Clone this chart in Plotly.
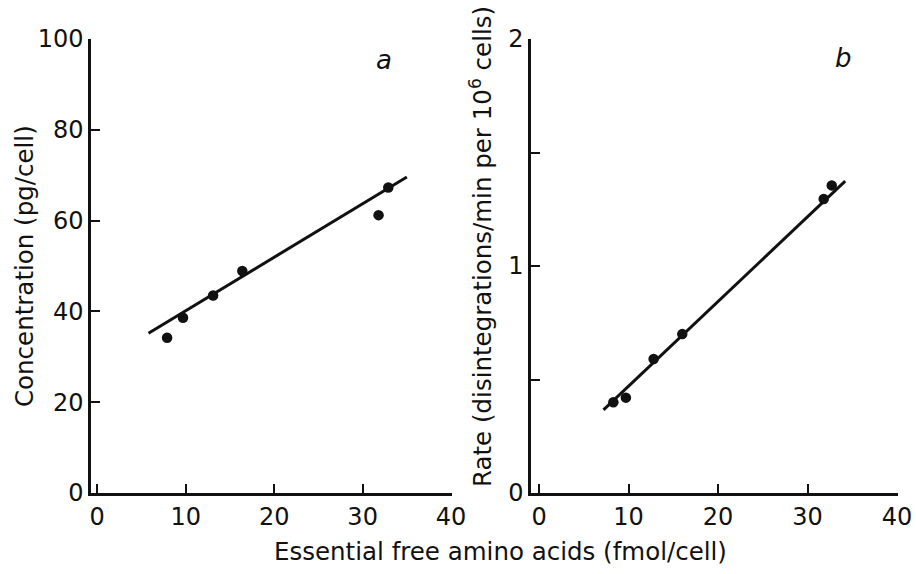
import plotly.graph_objects as go

# Panel a data
a_x = [7.9, 9.7, 13.1, 16.4, 31.8, 32.9]
a_y = [34.2, 38.6, 43.5, 48.9, 61.2, 67.3]
a_fit_x = [5.8, 35.0]
a_fit_y = [35.2, 69.6]

# Panel b data
b_x = [8.3, 9.7, 12.8, 16.0, 31.8, 32.7]
b_y = [0.40, 0.42, 0.59, 0.70, 1.295, 1.355]
b_fit_x = [7.2, 34.2]
b_fit_y = [0.366, 1.374]

x_ticks = [0, 10, 20, 30, 40]
a_yticks = [0, 20, 40, 60, 80, 100]
b_yticks = [0, 0.5, 1, 1.5, 2]
b_yticktext = ["0", "", "1", "", "2"]

W, H = 916, 574
FONT = "DejaVu Sans"
INK = "#111"

fig = go.Figure()
fig.add_trace(go.Scatter(x=a_fit_x, y=a_fit_y, mode="lines",
                         line=dict(color=INK, width=3), xaxis="x", yaxis="y", showlegend=False))
fig.add_trace(go.Scatter(x=a_x, y=a_y, mode="markers",
                         marker=dict(color=INK, size=10.5), xaxis="x", yaxis="y", showlegend=False))
fig.add_trace(go.Scatter(x=b_fit_x, y=b_fit_y, mode="lines",
                         line=dict(color=INK, width=3), xaxis="x2", yaxis="y2", showlegend=False))
fig.add_trace(go.Scatter(x=b_x, y=b_y, mode="markers",
                         marker=dict(color=INK, size=10.5), xaxis="x2", yaxis="y2", showlegend=False))

ydom = [(H - 493) / H, (H - 39) / H]
axis_common = dict(showgrid=False, zeroline=False, showline=True, linecolor=INK, linewidth=2.5,
                   ticks="inside", ticklen=9, tickwidth=2, tickcolor=INK,
                   tickfont=dict(family=FONT, size=24, color=INK))


def ann(text, x, y, size, angle=0):
    return dict(text=text, textangle=angle, x=x / W, y=(H - y) / H, xref="paper", yref="paper",
                xanchor="center", yanchor="middle", showarrow=False,
                font=dict(family=FONT, size=size, color=INK))


fig.update_layout(
    width=W, height=H, margin=dict(l=0, r=0, t=0, b=0, autoexpand=False),
    paper_bgcolor="white", plot_bgcolor="white",
    xaxis=dict(domain=[91 / W, 452 / W], range=[-0.7, 40.1], tickvals=x_ticks, anchor="y", **axis_common),
    yaxis=dict(domain=ydom, range=[0, 100], tickvals=a_yticks, anchor="x", **axis_common),
    xaxis2=dict(domain=[531 / W, 898 / W], range=[-0.9, 40.1], tickvals=x_ticks, anchor="y2", **axis_common),
    yaxis2=dict(domain=ydom, range=[0, 2], tickvals=b_yticks, ticktext=b_yticktext, anchor="x2", **axis_common),
    annotations=[
        ann("Concentration (pg/cell)", 24, 266, 24.5, -90),
        ann("Rate (disintegrations/min per 10<sup>6</sup> cells)", 481, 247, 24.5, -90),
        ann("Essential free amino acids (fmol/cell)", 500, 551, 24.5),
        ann("<i>a</i>", 384, 60, 26),
        ann("<i>b</i>", 843, 58, 26),
    ],
)

fig.write_html("out.html")
